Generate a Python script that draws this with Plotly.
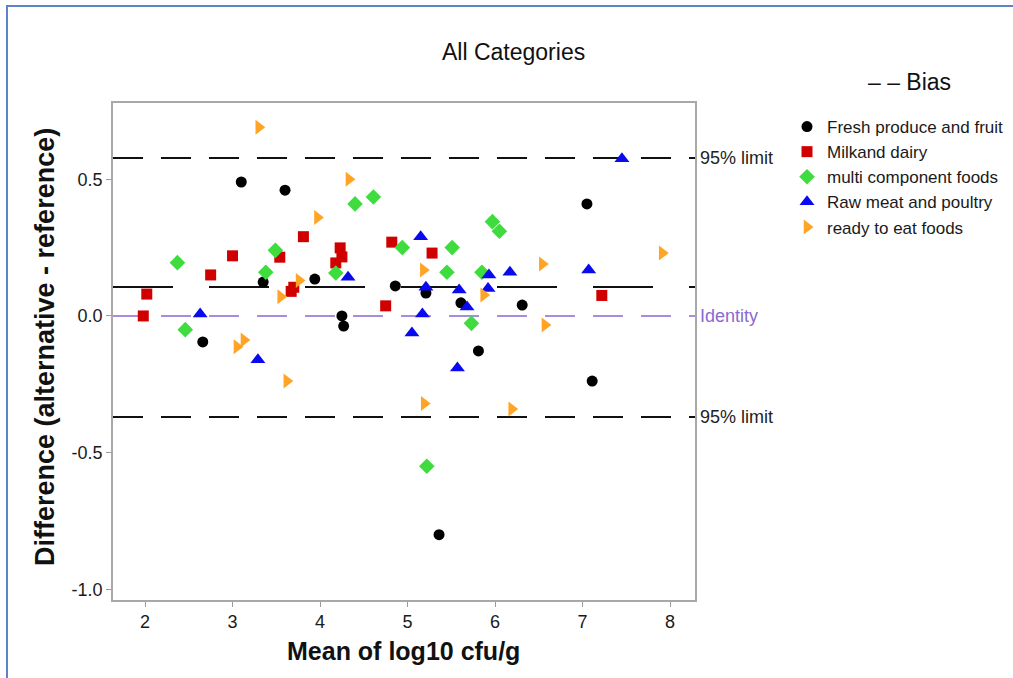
import plotly.graph_objects as go

# Bland-Altman data: mean of the two methods (log10 cfu/g) vs difference
fresh_x = [2.66, 3.10, 3.35, 3.60, 3.94, 4.25, 4.27, 4.86, 5.21, 5.36, 5.61, 5.81, 6.31, 7.05, 7.11]
fresh_y = [-0.095, 0.49, 0.124, 0.46, 0.135, 0.0, -0.037, 0.11, 0.084, -0.80, 0.048, -0.128, 0.04, 0.41, -0.238]

milk_x = [1.98, 2.02, 2.75, 3.00, 3.54, 3.67, 3.70, 3.81, 4.18, 4.23, 4.25, 4.75, 4.82, 5.28, 7.22]
milk_y = [0.0, 0.08, 0.15, 0.22, 0.215, 0.09, 0.105, 0.29, 0.194, 0.249, 0.216, 0.037, 0.27, 0.23, 0.075]

multi_x = [2.37, 2.46, 3.38, 3.49, 4.18, 4.40, 4.61, 4.94, 5.22, 5.45, 5.51, 5.73, 5.85, 5.97, 6.05]
multi_y = [0.195, -0.05, 0.16, 0.24, 0.157, 0.41, 0.435, 0.25, -0.55, 0.16, 0.25, -0.027, 0.16, 0.345, 0.31]

raw_x = [2.63, 3.29, 4.32, 5.05, 5.15, 5.17, 5.21, 5.57, 5.59, 5.68, 5.92, 5.93, 6.17, 7.07, 7.45]
raw_y = [0.007, -0.16, 0.142, -0.062, 0.29, 0.007, 0.105, -0.19, 0.095, 0.033, 0.10, 0.15, 0.16, 0.168, 0.575]

ready_x = [3.05, 3.13, 3.30, 3.55, 3.62, 3.76, 3.97, 4.33, 5.18, 5.19, 5.87, 6.19, 6.54, 6.57, 7.91]
ready_y = [-0.113, -0.088, 0.69, 0.07, -0.238, 0.13, 0.36, 0.50, 0.168, -0.32, 0.077, -0.34, 0.19, -0.033, 0.23]

bias = 0.106
upper_limit = 0.578
lower_limit = -0.370
identity = 0.0

x_ticks = [2, 3, 4, 5, 6, 7, 8]
y_ticks = [-1.0, -0.5, 0.0, 0.5]
y_tick_labels = ["-1.0", "-0.5", "0.0", "0.5"]

FONT = "Liberation Sans, Arial, sans-serif"

series = [
    ("Fresh produce and fruit", fresh_x, fresh_y, "circle", "#000000", 11),
    ("Milkand dairy", milk_x, milk_y, "square", "#d10000", 11),
    ("multi component foods", multi_x, multi_y, "diamond", "#3fdc3f", 12),
    ("Raw meat and poultry", raw_x, raw_y, "triangle-up", "#0a0aee", 13),
    ("ready to eat foods", ready_x, ready_y, "triangle-right", "#ffa426", 13),
]

fig = go.Figure()
for name, xs, ys, sym, col, size in series:
    fig.add_trace(go.Scatter(
        x=xs, y=ys, mode="markers", name=name,
        marker=dict(symbol=sym, color=col, size=size, line=dict(width=0)),
    ))

# Reference lines
ref_lines = [
    (upper_limit, "#111111", 2, "30px,18px"),
    (lower_limit, "#111111", 2, "30px,18px"),
    (bias, "#111111", 2, "60px,36px"),
    (identity, "#8a6ad2", 1.5, "30px,18px"),
]
for yv, col, w, dash in ref_lines:
    fig.add_shape(type="line", xref="x domain", yref="y", x0=0, x1=1, y0=yv, y1=yv,
                  line=dict(color=col, width=w, dash=dash), layer="below")

# Labels to the right of the plot area
side_labels = [
    (upper_limit, "95% limit", "#222222"),
    (lower_limit, "95% limit", "#222222"),
    (identity, "Identity", "#8a6ad2"),
]
annotations = []
for yv, txt, col in side_labels:
    annotations.append(dict(x=1, xref="x domain", y=yv, yref="y", text=txt, showarrow=False,
                            xanchor="left", yanchor="middle", xshift=3,
                            font=dict(family=FONT, size=18, color=col)))

PW, PH = 582, 497
L, T = 113, 103

def px_x(p):
    return (p - L) / PW

def px_y(p):
    return (T + PH - p) / PH

annotations += [
    dict(x=px_x(513), y=px_y(52), xref="paper", yref="paper", text="All Categories",
         showarrow=False, xanchor="center", yanchor="middle",
         font=dict(family=FONT, size=23, color="#111111")),
    dict(x=px_x(866), y=px_y(82), xref="paper", yref="paper", text="– – Bias",
         showarrow=False, xanchor="left", yanchor="middle",
         font=dict(family=FONT, size=23, color="#111111")),
    dict(x=px_x(403), y=px_y(651), xref="paper", yref="paper", text="<b>Mean of log10 cfu/g</b>",
         showarrow=False, xanchor="center", yanchor="middle",
         font=dict(family=FONT, size=25, color="#111111")),
    dict(x=px_x(45), y=px_y(347), xref="paper", yref="paper",
         text="<b>Difference (alternative - reference)</b>", textangle=-90,
         showarrow=False, xanchor="center", yanchor="middle",
         font=dict(family=FONT, size=27, color="#111111")),
]

# Outer frame
fig.add_shape(type="rect", xref="paper", yref="paper",
              x0=px_x(7), x1=px_x(1030), y0=px_y(695), y1=px_y(6),
              line=dict(color="#5a86c6", width=2), fillcolor="rgba(0,0,0,0)", layer="above")

axis_common = dict(showgrid=False, zeroline=False, showline=True, mirror=True,
                   linecolor="#a8a8a8", linewidth=1.5, ticks="outside", ticklen=5,
                   tickcolor="#9a9a9a", tickwidth=1.2,
                   tickfont=dict(family=FONT, size=18, color="#1a1a1a"))

fig.update_layout(
    width=1013, height=678,
    margin=dict(l=L, r=1013 - L - PW, t=T, b=678 - T - PH, autoexpand=False),
    paper_bgcolor="white", plot_bgcolor="white",
    showlegend=True,
    legend=dict(x=px_x(787), y=px_y(109), xanchor="left", yanchor="top",
                font=dict(family=FONT, size=17, color="#1a1a1a"),
                bgcolor="rgba(0,0,0,0)", borderwidth=0, itemclick=False),
    xaxis=dict(range=[1.634, 8.285], tickvals=x_ticks, **axis_common),
    yaxis=dict(range=[-1.039, 0.779], tickvals=y_ticks, ticktext=y_tick_labels, **axis_common),
    annotations=annotations,
)

fig.write_html("out.html")
